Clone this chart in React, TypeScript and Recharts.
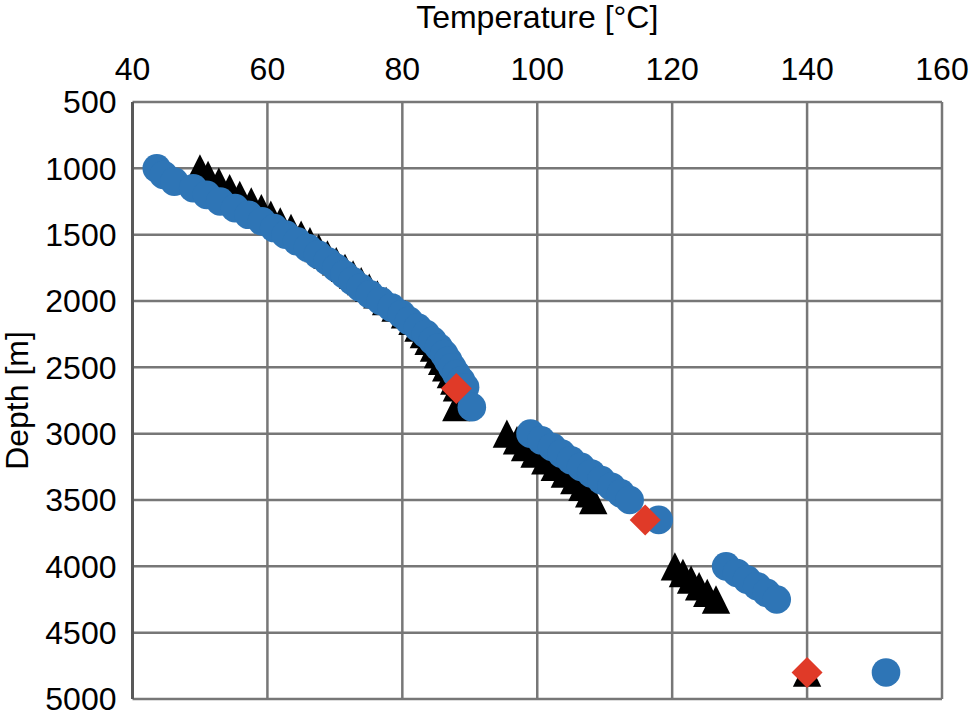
import { ScatterChart, Scatter, XAxis, YAxis, CartesianGrid } from "recharts";

const FONT = "'Liberation Sans', Arial, sans-serif";

const tempTicks = [40, 60, 80, 100, 120, 140, 160];
const depthTicks = [500, 1000, 1500, 2000, 2500, 3000, 3500, 4000, 4500, 5000];

// [temperature °C, depth m]
const triangles: [number, number][] = [
  [50.0, 1000], [51.2, 1050], [52.8, 1100], [54.4, 1150], [55.9, 1200],
  [57.6, 1250], [59.1, 1300], [60.5, 1350], [61.9, 1400], [63.5, 1450],
  [65.0, 1500], [66.3, 1550], [67.6, 1600], [68.9, 1650], [70.2, 1700],
  [71.5, 1750], [72.7, 1800], [73.9, 1850], [75.1, 1900], [76.3, 1950],
  [77.6, 2000], [79.0, 2050], [80.4, 2100], [81.5, 2150], [82.4, 2200],
  [83.2, 2250], [83.9, 2300], [84.7, 2350], [85.3, 2400], [85.9, 2450],
  [86.5, 2500], [87.2, 2550], [87.7, 2600], [88.1, 2650], [88.0, 2800],
  [95.5, 3000], [97.0, 3050], [98.2, 3100], [99.6, 3150], [101.2, 3200],
  [102.6, 3250], [104.1, 3300], [105.5, 3350], [106.7, 3400], [107.7, 3450],
  [108.3, 3500],
  [120.4, 4000], [121.6, 4050], [122.8, 4100], [124.0, 4150], [125.2, 4200],
  [126.5, 4250],
  [140.0, 4800],
];

const circles: [number, number][] = [
  [43.6, 1000], [44.6, 1050], [46.2, 1100], [49.0, 1150], [51.0, 1200],
  [53.0, 1250], [55.2, 1300], [57.2, 1350], [59.2, 1400], [61.0, 1450],
  [62.7, 1500], [64.4, 1550], [66.0, 1600], [67.5, 1650], [68.9, 1700],
  [70.2, 1750], [71.4, 1800], [72.6, 1850], [73.8, 1900], [75.2, 1950],
  [76.8, 2000], [78.4, 2050], [79.9, 2100], [81.0, 2150], [82.3, 2200],
  [83.5, 2250], [84.5, 2300], [85.4, 2350], [86.2, 2400], [86.8, 2450],
  [87.4, 2500], [88.0, 2550], [88.7, 2600], [89.3, 2650], [90.3, 2800],
  [99.0, 3000], [100.6, 3050], [102.2, 3100], [103.6, 3150], [105.0, 3200],
  [106.5, 3250], [108.0, 3300], [109.5, 3350], [111.0, 3400], [112.4, 3450],
  [113.7, 3500], [118.0, 3650],
  [128.0, 4000], [129.6, 4050], [131.1, 4100], [132.6, 4150], [134.0, 4200],
  [135.5, 4250],
  [151.7, 4800],
];

const diamonds: [number, number][] = [
  [88.0, 2660],
  [116.0, 3650],
  [140.0, 4800],
];

const toPoints = (rows: [number, number][]) =>
  rows.map(([temp, depth]) => ({ temp, depth }));

function Triangle(props: any) {
  const { cx, cy } = props;
  const h = 14.2;
  return (
    <polygon
      points={`${cx},${cy - h} ${cx + h},${cy + h} ${cx - h},${cy + h}`}
      fill="#000000"
    />
  );
}

function Dot(props: any) {
  const { cx, cy } = props;
  return <circle cx={cx} cy={cy} r={14.3} fill="#2E75B6" />;
}

function Diamond(props: any) {
  const { cx, cy } = props;
  const h = 15.5;
  return (
    <polygon
      points={`${cx},${cy - h} ${cx + h},${cy} ${cx},${cy + h} ${cx - h},${cy}`}
      fill="#E03A28"
    />
  );
}

const textStyle = { fontSize: 32, fill: "#000", fontFamily: FONT };

export default function App() {
  return (
    <div style={{ position: "absolute", left: 0, top: 0, background: "#fff" }}>
      <ScatterChart
        width={969}
        height={720}
        margin={{ top: 0, right: 27, bottom: 21, left: 0 }}
      >
        <CartesianGrid
          xAxisId="t"
          yAxisId="d"
          stroke="#777777"
          strokeWidth={2.5}
        />
        <XAxis
          xAxisId="t"
          type="number"
          dataKey="temp"
          orientation="top"
          domain={[40, 160]}
          ticks={tempTicks}
          height={102}
          axisLine={false}
          tickLine={false}
          tickSize={0}
          tickMargin={22}
          tick={textStyle}
          label={{
            value: "Temperature [°C]",
            position: "insideTop",
            offset: 5,
            style: textStyle,
          }}
        />
        <YAxis
          yAxisId="d"
          type="number"
          dataKey="depth"
          domain={[500, 5000]}
          ticks={depthTicks}
          reversed
          width={132.5}
          axisLine={{ stroke: "#595959", strokeWidth: 3 }}
          tickLine={false}
          tickSize={0}
          tickMargin={16}
          tick={textStyle}
          label={{
            value: "Depth [m]",
            angle: -90,
            position: "insideLeft",
            offset: 17,
            style: { ...textStyle, textAnchor: "middle" },
          }}
        />
        <Scatter
          xAxisId="t"
          yAxisId="d"
          data={toPoints(triangles)}
          shape={Triangle}
          isAnimationActive={false}
        />
        <Scatter
          xAxisId="t"
          yAxisId="d"
          data={toPoints(circles)}
          shape={Dot}
          isAnimationActive={false}
        />
        <Scatter
          xAxisId="t"
          yAxisId="d"
          data={toPoints(diamonds)}
          shape={Diamond}
          isAnimationActive={false}
        />
      </ScatterChart>
    </div>
  );
}
